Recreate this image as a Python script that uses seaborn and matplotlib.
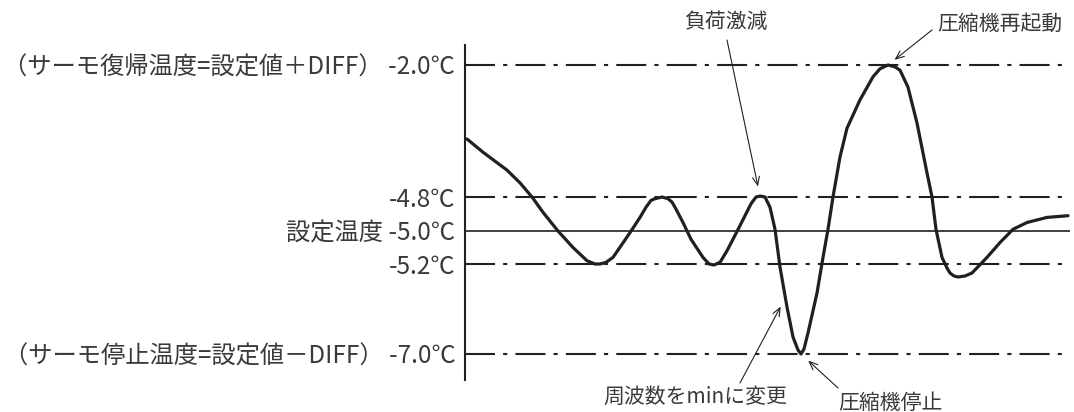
import numpy as np
import matplotlib
matplotlib.use('Agg')
import matplotlib.pyplot as plt
import seaborn as sns

# ── data ──────────────────────────────────────────────
# time (arbitrary units) and temperature (°C)
time = [2, 18, 42, 55, 67, 78, 93, 108, 122, 130, 135, 141, 148, 165, 175, 181,
        186, 190, 197, 203, 207, 210, 218, 226, 238, 244, 249, 255, 262, 274,
        286, 291, 295, 300, 305, 310, 315, 322, 328, 333, 336, 339, 343, 352,
        358, 363, 368, 375, 382, 395, 408, 415, 423, 430, 435, 443, 452, 462,
        467, 471, 477, 482, 485, 489, 493, 500, 507, 522, 535, 548, 562, 582,
        603]
temp = [-3.57, -3.85, -4.23, -4.50, -4.80, -4.89, -5.00, -5.10, -5.18, -5.20,
        -5.20, -5.19, -5.16, -5.01, -4.92, -4.86, -4.82, -4.81, -4.80, -4.81,
        -4.83, -4.86, -4.95, -5.05, -5.16, -5.20, -5.22, -5.19, -5.12, -4.98,
        -4.84, -4.80, -4.78, -4.80, -4.86, -4.99, -5.26, -6.06, -6.66, -6.92,
        -7.00, -6.90, -6.58, -5.78, -5.16, -4.99, -4.80, -3.95, -3.34, -2.74,
        -2.25, -2.08, -2.00, -2.04, -2.11, -2.47, -3.23, -4.29, -4.80, -4.99,
        -5.16, -5.28, -5.38, -5.44, -5.46, -5.44, -5.38, -5.16, -5.07, -4.99,
        -4.95, -4.92, -4.91]

levels = [-2.0, -4.8, -5.0, -5.2, -7.0]
level_labels = ['（サーモ復帰温度=設定値＋DIFF） -2.0℃', '-4.8℃', '設定温度 -5.0℃',
                '-5.2℃', '（サーモ停止温度=設定値－DIFF） -7.0℃']

# schematic (non-linear) temperature axis: temperature -> drawing height
scale_t = [-9.0, -7.0, -5.2, -5.0, -4.8, -2.0, 0.0]
scale_u = [-100, 0, 90, 123, 157, 289, 383.3]

notes = ['負荷激減', '圧縮機再起動', '周波数をminに変更', '圧縮機停止']

# ── plot ──────────────────────────────────────────────
sns.set_theme(style='white')
plt.rcParams['font.family'] = ['Noto Sans CJK JP', 'DejaVu Sans']
ink = '#231f20'
txt = '#3a3a3a'

fig = plt.figure(figsize=(10.74, 4.12), dpi=100)
ax = fig.add_axes([465 / 1074, 32 / 412, 605 / 1074, 335 / 412])

fwd = lambda v: np.interp(v, scale_t, scale_u)
inv = lambda v: np.interp(v, scale_u, scale_t)
ax.set_yscale('function', functions=(fwd, inv))

dashdot = (0, (14.4, 3.9, 2.0, 3.9))
for lv in levels:
    if lv == -5.0:
        ax.axhline(lv, color=ink, lw=1.2)
    else:
        ax.axhline(lv, color=ink, lw=1.5, linestyle=dashdot)

sns.lineplot(x=time, y=temp, ax=ax, color=ink, lw=2.3, estimator=None, sort=False)

ax.set_xlim(0, 605)
ax.set_ylim(inv(-26), inv(309))
ax.set_xticks([])
ax.set_yticks(levels, labels=level_labels)
ax.tick_params(axis='y', length=0, pad=7, labelsize=17.5, labelcolor=txt)
ax.set_xlabel('')
ax.set_ylabel('')
sns.despine(ax=ax, top=True, right=True, bottom=True)
ax.spines['left'].set_color(ink)
ax.spines['left'].set_linewidth(1.5)

# annotations: arrow tips point at curve samples
arrow = dict(arrowstyle='->,head_length=0.6,head_width=0.25', color=ink, lw=0.8,
             shrinkA=0, mutation_scale=10)
ax.annotate('', xy=(time[32], temp[32]), xytext=(727, 372), textcoords='figure pixels',
            arrowprops=dict(arrow, shrinkB=7))
ax.annotate('', xy=(time[52], temp[52]), xytext=(932, 382), textcoords='figure pixels',
            arrowprops=dict(arrow, shrinkB=6))
ax.annotate('', xy=(time[37] - 5, temp[37] + 0.06), xytext=(740, 29), textcoords='figure pixels',
            arrowprops=dict(arrow, shrinkB=2))
ax.annotate('', xy=(time[40], temp[40]), xytext=(838, 24), textcoords='figure pixels',
            arrowprops=dict(arrow, shrinkB=7))

fig.text(727 / 1074, 390 / 412, notes[0], ha='center', va='center', fontsize=15, color=txt)
fig.text(1000 / 1074, 388 / 412, notes[1], ha='center', va='center', fontsize=15, color=txt)
fig.text(695 / 1074, 15 / 412, notes[2], ha='center', va='center', fontsize=15, color=txt)
fig.text(890 / 1074, 9 / 412, notes[3], ha='center', va='center', fontsize=15, color=txt)

fig.savefig('out.png', dpi=100)
